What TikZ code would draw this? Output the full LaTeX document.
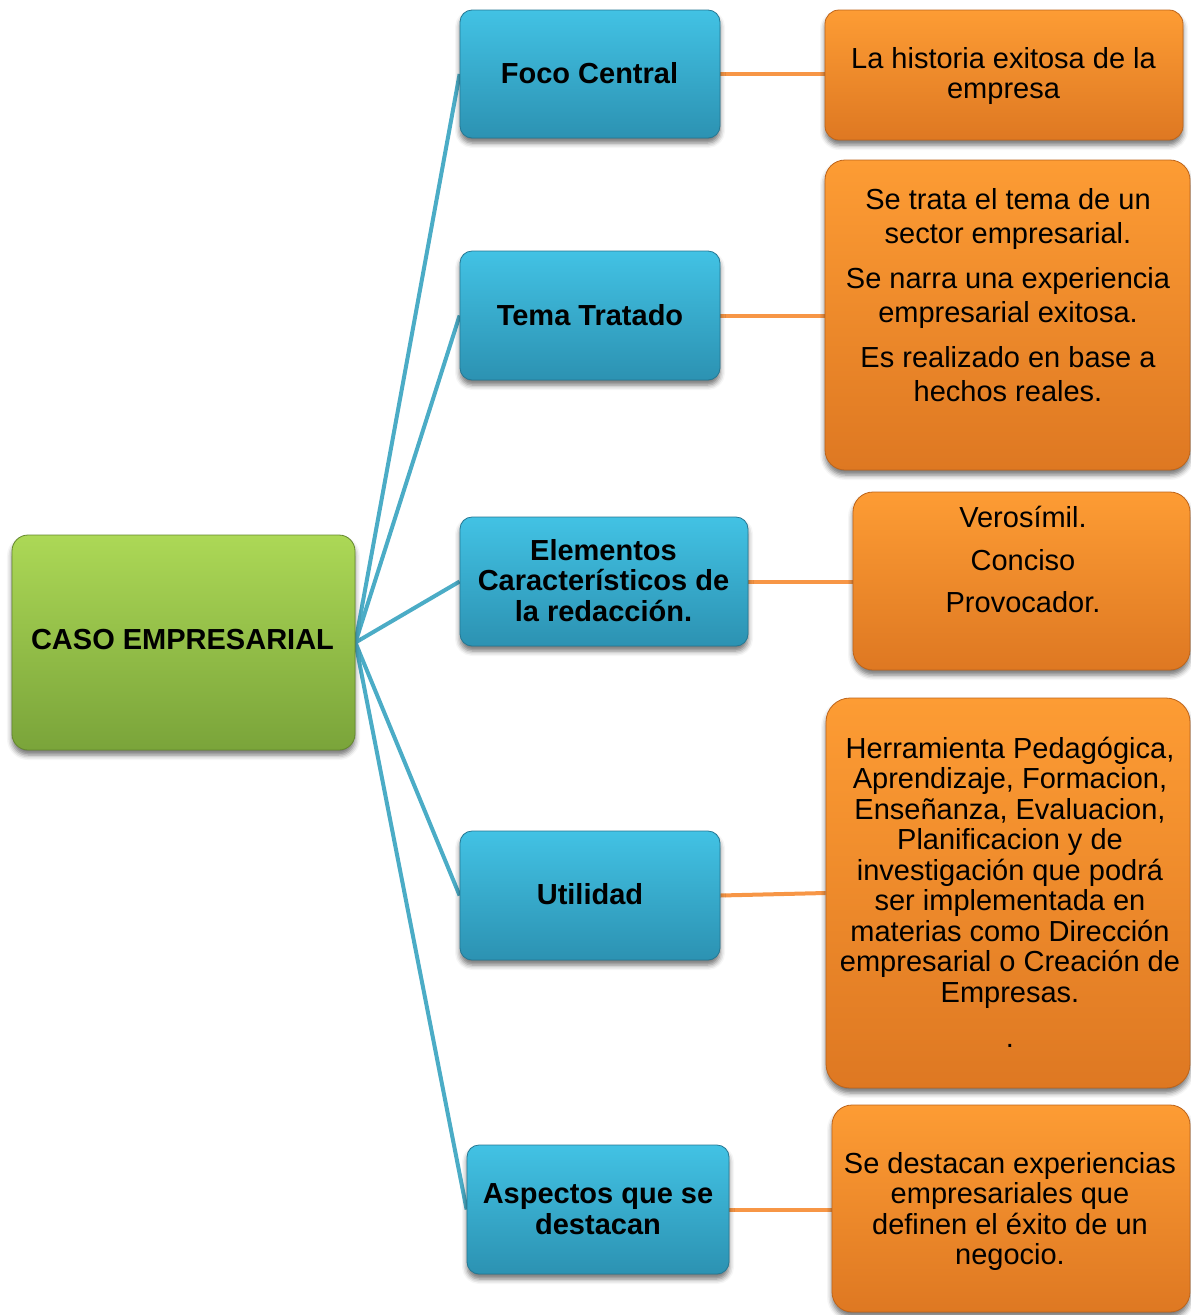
\documentclass[tikz,border=0pt]{standalone}
\usepackage{fontspec}
\setmainfont{Liberation Sans}
\usetikzlibrary{shadows.blur,backgrounds}

\definecolor{bluetop}{RGB}{66,194,228}
\definecolor{bluebot}{RGB}{44,146,178}
\definecolor{blueedge}{RGB}{36,120,148}
\definecolor{greentop}{RGB}{172,216,86}
\definecolor{greenbot}{RGB}{122,164,58}
\definecolor{greenedge}{RGB}{100,136,46}
\definecolor{orangetop}{RGB}{253,156,52}
\definecolor{orangebot}{RGB}{222,120,34}
\definecolor{orangeedge}{RGB}{190,100,26}
\definecolor{linkblue}{RGB}{75,172,198}
\definecolor{linkorange}{RGB}{247,150,70}

\tikzset{
  boxbase/.style={rectangle, inner sep=0pt,
    blur shadow={shadow xshift=0pt, shadow yshift=-5pt,
                 shadow blur radius=5pt, shadow opacity=55}},
  rootbox/.style={boxbase, rounded corners=16pt, draw=greenedge, line width=0.8pt,
    top color=greentop, bottom color=greenbot},
  topicbox/.style={boxbase, rounded corners=12pt, draw=blueedge, line width=0.8pt,
    top color=bluetop, bottom color=bluebot},
  notebox/.style={boxbase, rounded corners=20pt, draw=orangeedge, line width=0.8pt,
    top color=orangetop, bottom color=orangebot},
  boldtxt/.style={align=center, inner sep=0pt,
    font=\fontsize{29}{30.5}\selectfont\bfseries},
  plaintxt/.style={align=center, inner sep=0pt,
    font=\fontsize{29}{30.5}\selectfont},
  bluelink/.style={draw=linkblue, line width=4pt},
  orangelink/.style={draw=linkorange, line width=4pt},
}

\begin{document}
\begin{tikzpicture}[x=1pt, y=-1pt]
\useasboundingbox (0,0) rectangle (1191,1315);

% central box
\node[rootbox, minimum width=343pt, minimum height=215pt] (g) at (183.5,642.5) {};
\node[boldtxt] (gt) at (182.5,640) {CASO EMPRESARIAL};

% topic boxes
\node[topicbox, minimum width=260pt, minimum height=128pt] (b1) at (590,74) {};
\node[boldtxt] (b1t) at (589.5,73) {Foco Central};

\node[topicbox, minimum width=260pt, minimum height=129pt] (b2) at (590,315.5) {};
\node[boldtxt] (b2t) at (590,315) {Tema Tratado};

\node[topicbox, minimum width=288pt, minimum height=129pt] (b3) at (604,581.5) {};
\node[boldtxt] (b3t) at (603.5,580.5) {Elementos\\Característicos de\\la redacción.};

\node[topicbox, minimum width=260pt, minimum height=129pt] (b4) at (590,895.5) {};
\node[boldtxt] (b4t) at (590,894) {Utilidad};

\node[topicbox, minimum width=262pt, minimum height=129pt] (b5) at (598,1209.5) {};
\node[boldtxt] (b5t) at (598,1209) {Aspectos que se\\destacan};

% description boxes
\node[notebox, rounded corners=14pt, minimum width=358pt, minimum height=130pt] (o1) at (1004,75) {};
\node[plaintxt] (o1t) at (1003.5,76) {La historia exitosa de la\\empresa};

\node[notebox, minimum width=365pt, minimum height=310pt] (o2) at (1007.5,315) {};
\node[plaintxt, font=\fontsize{29}{34}\selectfont] (o2t) at (1008,295)
  {Se trata el tema de un\\sector empresarial.\\[11pt]
   Se narra una experiencia\\empresarial exitosa.\\[11pt]
   Es realizado en base a\\hechos reales.};

\node[notebox, minimum width=337pt, minimum height=178pt] (o3) at (1021.5,581) {};
\node[plaintxt, font=\fontsize{29}{42.5}\selectfont] (o3t) at (1023,559.5)
  {Verosímil.\\Conciso\\Provocador.};

\node[notebox, rounded corners=24pt, minimum width=364pt, minimum height=390pt] (o4) at (1008,893) {};
\node[plaintxt] (o4t) at (1010,892)
  {Herramienta Pedagógica,\\Aprendizaje, Formacion,\\Enseñanza, Evaluacion,\\
   Planificacion y de\\investigación que podrá\\ser implementada en\\
   materias como Dirección\\empresarial o Creación de\\Empresas.\\[14.5pt] .};

\node[notebox, minimum width=358pt, minimum height=207pt] (o5) at (1011,1208.5) {};
\node[plaintxt] (o5t) at (1010,1211.5)
  {Se destacan experiencias\\empresariales que\\definen el éxito de un\\negocio.};

% connectors behind the boxes
\begin{pgfonlayer}{background}
  \foreach \t in {b1,b2,b3,b4,b5}
    \draw[bluelink] (g.east) -- (\t.west);
  \draw[orangelink] (b1.east) -- (b1.east -| o1.west);
  \draw[orangelink] (b2.east) -- (b2.east -| o2.west);
  \draw[orangelink] (b3.east) -- (b3.east -| o3.west);
  \draw[orangelink] (b4.east) -- (o4.west);
  \draw[orangelink] (b5.east) -- (b5.east -| o5.west);
\end{pgfonlayer}
\end{tikzpicture}
\end{document}
